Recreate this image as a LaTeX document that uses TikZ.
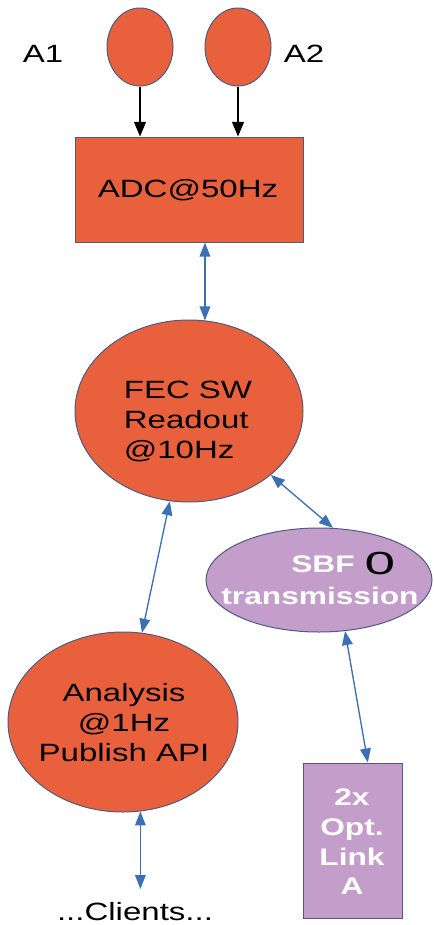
\documentclass[tikz,border=0pt]{standalone}
\usepackage{fontspec}
\setmainfont{Liberation Sans}[FakeStretch=1.32]
\usetikzlibrary{arrows.meta,shapes.geometric}
\definecolor{fillorange}{HTML}{E9603D}
\definecolor{fillpurple}{HTML}{C49ECB}
\definecolor{edgeblue}{HTML}{4E5B7F}
\definecolor{linkblue}{HTML}{3D6FB5}
\tikzset{
  shapeedge/.style={draw=edgeblue, line width=0.75pt},
  orangeoval/.style={shapeedge, ellipse, fill=fillorange, inner sep=0pt},
  orangebox/.style={shapeedge, rectangle, fill=fillorange, inner sep=0pt},
  purpleoval/.style={shapeedge, ellipse, fill=fillpurple, inner sep=0pt},
  purplebox/.style={shapeedge, rectangle, fill=fillpurple, inner sep=0pt},
  txt/.style={inner sep=0pt, font=\fontsize{18.75pt}{22.5pt}\selectfont, text=black},
  wtxt/.style={inner sep=0pt, font=\fontsize{18pt}{22pt}\selectfont\bfseries, text=white},
  blackarrow/.style={draw=black, line width=0.9pt, -{Triangle[length=11pt,width=9pt]}},
  bluearrow/.style={draw=linkblue, line width=1pt, {Triangle[length=10.5pt,width=8pt]}-{Triangle[length=10.5pt,width=8pt]}}
}
\begin{document}
\begin{tikzpicture}[x=0.75pt,y=-0.75pt]
\useasboundingbox (0,0) rectangle (433,925);

% sensors
\node[orangeoval, minimum width=49.5pt, minimum height=58.5pt] (a1) at (140,47) {};
\node[orangeoval, minimum width=49.5pt, minimum height=58.5pt] (a2) at (238,47) {};
\node[txt] (a1lbl) at (43,54) {A1};
\node[txt] (a2lbl) at (304,54) {A2};

% ADC
\node[orangebox, minimum width=171pt, minimum height=78.75pt] (adc) at (189,189.5) {};
\node[txt] (adclbl) at (188,190) {ADC@50Hz};

% FEC readout
\node[orangeoval, minimum width=171pt, minimum height=136.5pt] (fec) at (189,411) {};
\node[txt, align=left] (feclbl) at (188,421) {FEC SW\\Readout\\@10Hz};

% SBF transmission
\node[purpleoval, minimum width=169.5pt, minimum height=78pt] (sbf) at (319,580) {};
\node[wtxt, anchor=base] (sbflbl) at (323,572) {SBF};
\node[inner sep=0pt, anchor=base, text=black, font=\fontsize{24pt}{24pt}\selectfont] (sbfzero) at (380,574) {\scalebox{1.3}[1]{0}};
\node[wtxt, anchor=base] (trlbl) at (320,604) {transmission};

% Analysis
\node[orangeoval, minimum width=172.5pt, minimum height=135pt] (ana) at (123,722) {};
\node[txt, align=center] (analbl) at (124,723) {Analysis\\@1Hz\\Publish API};

% optical link
\node[purplebox, minimum width=74.25pt, minimum height=116.25pt] (link) at (352.5,840.5) {};
\node[wtxt, align=center, font=\fontsize{18pt}{22.2pt}\selectfont\bfseries] (linklbl) at (352,842) {2x\\Opt.\\Link\\A};

% clients
\node[txt] (clients) at (135,912) {...Clients...};
\coordinate (clientstop) at (135,889);

% connectors
\draw[blackarrow] (a1.south) -- (a1.south |- adc.north);
\draw[blackarrow] (a2.south) -- (a2.south |- adc.north);
\draw[bluearrow] (adc.south -| fec.80) -- (fec.80);
\draw[bluearrow] (fec.-38) -- (sbf.75);
\draw[bluearrow] (fec.258) -- (ana.78);
\draw[bluearrow] (sbf.-63) -- ([xshift=11.5pt]link.north);
\draw[bluearrow] (ana.-79) -- (ana.-79 |- clientstop);
\end{tikzpicture}
\end{document}
